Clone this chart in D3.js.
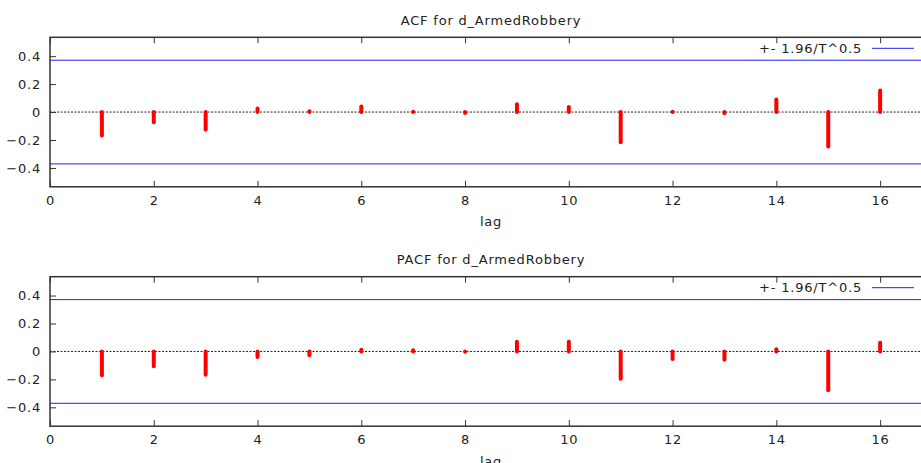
<!DOCTYPE html>
<html>
<head>
    <meta charset="utf-8">
    <script src="https://cdn.jsdelivr.net/npm/d3@7/dist/d3.min.js"></script>
    <style>
        body { margin: 0; background: #fff; }
        svg { display: block; }
        text { font-family: "DejaVu Sans", Verdana, sans-serif; font-size: 13px; letter-spacing: 0.8px; fill: #222; }
        .frame { fill: none; stroke: #333; stroke-width: 1.5px; }
        .axis line { stroke: #333; stroke-width: 1px; }
        .axis path { display: none; }
        .zero { stroke: #222; stroke-width: 1px; stroke-dasharray: 2,1.5; }
        .band { stroke: #2020ee; stroke-width: 1px; }
        .bar { stroke: #ff0000; stroke-width: 4px; stroke-linecap: round; }
    </style>
</head>
<body>
<script>
    // lag values and correlations
    var lags = [1, 2, 3, 4, 5, 6, 7, 8, 9, 10, 11, 12, 13, 14, 15, 16];
    var acf = [-0.168, -0.073, -0.125, 0.025, 0.005, 0.039, 0.003, -0.006,
               0.056, 0.036, -0.216, 0.003, -0.008, 0.089, -0.246, 0.154];
    var pacf = [-0.171, -0.106, -0.166, -0.039, -0.028, 0.013, 0.008, -0.003,
                0.070, 0.070, -0.196, -0.054, -0.059, 0.015, -0.278, 0.063];
    var band = 0.371; // 1.96/T^0.5
    var xTicks = [0, 2, 4, 6, 8, 10, 12, 14, 16];
    var yTicks = [-0.4, -0.2, 0, 0.2, 0.4];
    var titles = ["ACF for d_ArmedRobbery", "PACF for d_ArmedRobbery"];
    var legendLabel = "+- 1.96/T^0.5";

    var width = 921, height = 463;
    var left = 50, right = 932, panelH = 149.5;
    var panelTops = [37.3, 276.7];

    var svg = d3.select("body").append("svg")
        .attr("width", width)
        .attr("height", height);

    var x = d3.scaleLinear().domain([0, 17]).range([left, right]);

    function panel(top, title, values) {
        var y = d3.scaleLinear().domain([-0.535, 0.535]).range([top + panelH, top]);
        var g = svg.append("g");

        g.append("text")
            .attr("x", (left + right) / 2)
            .attr("y", top - 17)
            .attr("dy", "0.35em")
            .style("text-anchor", "middle")
            .text(title);

        // confidence band
        g.selectAll(".band")
            .data([band, -band])
            .enter().append("line")
            .attr("class", "band")
            .attr("x1", left).attr("x2", right)
            .attr("y1", function (d) { return y(d); })
            .attr("y2", function (d) { return y(d); });

        g.append("line")
            .attr("class", "zero")
            .attr("x1", left).attr("x2", right)
            .attr("y1", y(0)).attr("y2", y(0));

        g.selectAll(".bar")
            .data(lags)
            .enter().append("line")
            .attr("class", "bar")
            .attr("x1", function (d) { return x(d); })
            .attr("x2", function (d) { return x(d); })
            .attr("y1", y(0))
            .attr("y2", function (d, i) { return y(values[i]); });

        g.append("g")
            .attr("class", "axis")
            .attr("transform", "translate(" + left + ",0)")
            .call(d3.axisLeft(y).tickValues(yTicks).tickSize(-6).tickPadding(9)
                .tickFormat(function (d) { return d === 0 ? "0" : d3.format(".1f")(d); }))
            .selectAll("text").style("font-size", "13px").attr("fill", "#222");

        g.append("g")
            .attr("class", "axis")
            .attr("transform", "translate(0," + (top + panelH) + ")")
            .call(d3.axisBottom(x).tickValues(xTicks).tickSize(-6).tickPadding(9))
            .selectAll("text").style("font-size", "13px").attr("fill", "#222");

        g.append("g")
            .attr("class", "axis")
            .attr("transform", "translate(0," + top + ")")
            .call(d3.axisTop(x).tickValues(xTicks).tickSize(-6).tickFormat(""));

        g.append("rect")
            .attr("class", "frame")
            .attr("x", left).attr("y", top)
            .attr("width", right - left).attr("height", panelH);

        g.append("text")
            .attr("x", (left + right) / 2)
            .attr("y", top + panelH + 35)
            .attr("dy", "0.35em")
            .style("text-anchor", "middle")
            .text("lag");

        // legend
        var ly = top + 11;
        g.append("text")
            .attr("x", 862)
            .attr("y", ly)
            .attr("dy", "0.35em")
            .style("text-anchor", "end")
            .text(legendLabel);
        g.append("line")
            .attr("class", "band")
            .attr("x1", 872).attr("x2", 914)
            .attr("y1", ly).attr("y2", ly);
    }

    panel(panelTops[0], titles[0], acf);
    panel(panelTops[1], titles[1], pacf);
</script>
</body>
</html>
